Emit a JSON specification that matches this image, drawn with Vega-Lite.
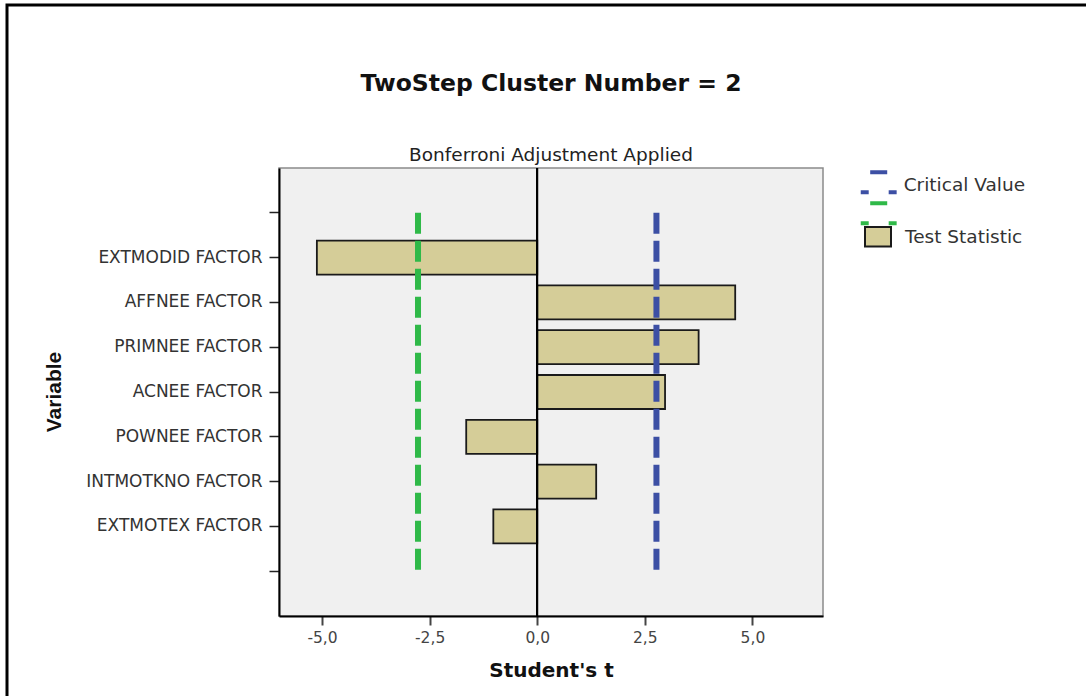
{
  "$schema": "https://vega.github.io/schema/vega-lite/v6.json",
  "width": 544,
  "height": 448,
  "autosize": "none",
  "padding": {"left": 279, "top": 168, "right": 263, "bottom": 80},
  "background": "#ffffff",
  "title": {
    "text": "TwoStep Cluster Number = 2",
    "subtitle": "Bonferroni Adjustment Applied",
    "anchor": "middle",
    "frame": "group",
    "font": "DejaVu Sans",
    "fontSize": 23.5,
    "fontWeight": "bold",
    "color": "#111111",
    "subtitleFont": "DejaVu Sans",
    "subtitleFontSize": 18.5,
    "subtitleColor": "#222222",
    "subtitlePadding": 50.5,
    "offset": 0,
    "dy": 160.5
  },
  "data": {
    "values": [
      {"variable": "EXTMODID FACTOR", "t": -5.12, "series": "Test Statistic"},
      {"variable": "AFFNEE FACTOR", "t": 4.6, "series": "Test Statistic"},
      {"variable": "PRIMNEE FACTOR", "t": 3.75, "series": "Test Statistic"},
      {"variable": "ACNEE FACTOR", "t": 2.97, "series": "Test Statistic"},
      {"variable": "POWNEE FACTOR", "t": -1.65, "series": "Test Statistic"},
      {"variable": "INTMOTKNO FACTOR", "t": 1.37, "series": "Test Statistic"},
      {"variable": "EXTMOTEX FACTOR", "t": -1.02, "series": "Test Statistic"},
      {"t": 2.77, "series": "Critical Value", "side": "upper"},
      {"t": -2.77, "series": "Critical Value", "side": "lower"}
    ]
  },
  "layer": [
    {
      "transform": [{"filter": "datum.series === 'Test Statistic'"}],
      "mark": {"type": "bar", "stroke": "#1a1a1a", "strokeWidth": 1.8},
      "encoding": {
        "y": {
          "field": "variable",
          "type": "nominal",
          "scale": {
            "type": "band",
            "domain": [" ", "EXTMODID FACTOR", "AFFNEE FACTOR", "PRIMNEE FACTOR", "ACNEE FACTOR", "POWNEE FACTOR", "INTMOTKNO FACTOR", "EXTMOTEX FACTOR", "  "],
            "paddingInner": 0.24,
            "paddingOuter": 0.62
          },
          "axis": {
            "title": "Variable",
            "titleFont": "Liberation Sans Narrow, Liberation Sans",
            "titleFontSize": 21,
            "titleFontWeight": "bold",
            "titleColor": "#111111",
            "titleAngle": 270,
            "titleAlign": "center",
            "titleBaseline": "middle",
            "titleX": -225,
            "titleY": 223.5,
            "labelFont": "DejaVu Sans",
            "labelFontSize": 17,
            "labelColor": "#333333",
            "labelPadding": 7,
            "labelLimit": 0,
            "tickSize": 10,
            "tickWidth": 1.5,
            "tickColor": "#222222",
            "domainColor": "#000000",
            "domainWidth": 2,
            "grid": false
          }
        },
        "x": {
          "field": "t",
          "type": "quantitative",
          "scale": {"domain": [-6, 6.64], "nice": false},
          "axis": {
            "title": "Student's t",
            "titleFont": "DejaVu Sans",
            "titleFontSize": 20,
            "titleFontWeight": "bold",
            "titleColor": "#111111",
            "titleX": 272,
            "titleY": 54,
            "titleBaseline": "middle",
            "values": [-5, -2.5, 0, 2.5, 5],
            "labelExpr": "(datum.value < 0 ? '-' : '') + replace(format(abs(datum.value), '.1f'), '.', ',')",
            "labelFont": "DejaVu Sans",
            "labelFontSize": 15.5,
            "labelColor": "#444444",
            "labelPadding": 5,
            "tickSize": 9,
            "tickWidth": 2,
            "tickColor": "#444444",
            "domainColor": "#000000",
            "domainWidth": 2,
            "grid": false
          }
        },
        "fill": {
          "field": "series",
          "type": "nominal",
          "scale": {"domain": ["Test Statistic"], "range": ["#d5cd98"]},
          "legend": {
            "title": null,
            "orient": "none",
            "legendX": 578,
            "legendY": 48,
            "padding": 0,
            "symbolType": "M-0.65,-0.5H0.65V0.48H-0.65Z",
            "symbolSize": 1600,
            "symbolStrokeColor": "#1a1a1a",
            "symbolStrokeWidth": 2,
            "labelOffset": 6,
            "labelFont": "DejaVu Sans",
            "labelFontSize": 18.5,
            "labelColor": "#333333"
          }
        }
      }
    },
    {
      "mark": {"type": "rule", "strokeWidth": 1.6},
      "encoding": {
        "x": {"datum": 0},
        "color": {
          "datum": "zero",
          "scale": {"range": ["#000000"]},
          "legend": {
            "title": null,
            "orient": "none",
            "legendX": -272,
            "legendY": -163,
            "padding": 600,
            "strokeColor": "#000000",
            "labelExpr": "''",
            "symbolOpacity": 0,
            "symbolSize": 1
          }
        }
      }
    },
    {
      "transform": [{"filter": "datum.series === 'Critical Value'"}],
      "mark": {"type": "rule", "strokeCap": "butt"},
      "encoding": {
        "x": {"field": "t", "type": "quantitative"},
        "y": {"datum": " "},
        "y2": {"datum": "  "},
        "strokeWidth": {"value": 6},
        "strokeDash": {"value": [21, 7]},
        "stroke": {
          "field": "side",
          "type": "nominal",
          "scale": {"domain": ["upper", "lower"], "range": ["#3c4fa4", "#2fb948"]},
          "legend": {
            "title": null,
            "orient": "none",
            "legendX": 584.2,
            "legendY": 1.5,
            "padding": 0,
            "symbolType": "M-0.63,-0.94H0.63M-1.33,0.54H-0.74M0.74,0.54H1.33",
            "symbolSize": 729,
            "symbolStrokeWidth": 4,
            "symbolFillColor": "transparent",
            "symbolDash": [],
            "rowPadding": -17,
            "labelOffset": 9.5,
            "labelExpr": "datum.value === 'upper' ? 'Critical Value' : ''",
            "labelFont": "DejaVu Sans",
            "labelFontSize": 18.5,
            "labelColor": "#333333"
          }
        }
      }
    }
  ],
  "config": {
    "view": {"fill": "#f0f0f0", "stroke": "#8a8a8a", "strokeWidth": 1.5},
    "legend": {"strokeWidth": 3}
  }
}
